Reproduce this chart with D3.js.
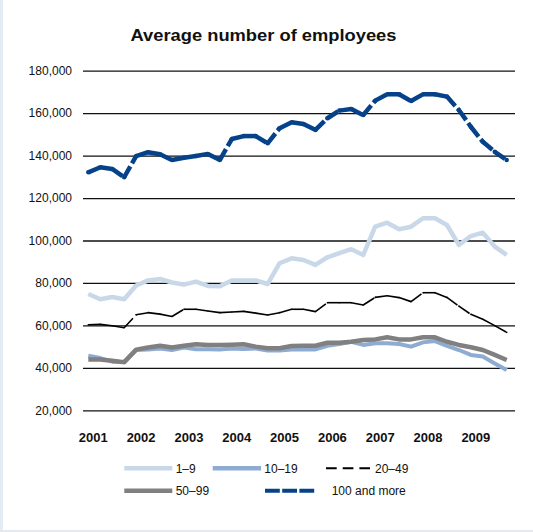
<!DOCTYPE html>
<html>
<head>
<meta charset="utf-8">
<script src="https://cdn.jsdelivr.net/npm/d3@7"></script>
<style>
  html, body { margin: 0; padding: 0; background: #ffffff; }
  svg { display: block; font-family: "Liberation Sans", Arial, Helvetica, sans-serif; }
</style>
</head>
<body>
<svg id="chart" width="533" height="532"></svg>
<script>
// Quarterly average number of employees by enterprise size class, 2001–2009
const years = ["2001", "2002", "2003", "2004", "2005", "2006", "2007", "2008", "2009"];
const quarters = years.flatMap(y => ["Q1", "Q2", "Q3", "Q4"].map(q => `${y} ${q}`));

const yTicks = [20000, 40000, 60000, 80000, 100000, 120000, 140000, 160000, 180000];

const size1to9 = [74800, 72300, 73400, 72300, 78800, 81200, 81900, 80200, 79200, 80600, 78600, 78400,
  81200, 81200, 81200, 79500, 89300, 91600, 90800, 88500, 92100, 94000, 95900, 93200,
  106500, 108400, 105300, 106500, 110500, 110500, 107300, 97900, 102100, 103700, 97100, 93200];

const size10to19 = [45700, 44600, 42900, 42600, 48400, 48700, 49100, 48400, 49600, 48800, 48800, 48700,
  49100, 48900, 49100, 48200, 48200, 48700, 48600, 48700, 50400, 51200, 52300, 50800,
  51600, 51600, 51200, 50000, 52000, 52600, 50400, 48400, 46100, 45300, 42100, 39000];

const size20to49 = [60300, 60500, 59800, 58900, 65000, 66000, 65300, 64200, 67600, 67600, 66800, 66000,
  66300, 66600, 65800, 64900, 66000, 67600, 67600, 66500, 70700, 70700, 70700, 69600,
  73200, 74000, 73100, 71200, 75400, 75400, 73200, 69100, 65200, 62900, 59900, 56700];

const size50to99 = [43900, 43900, 43300, 42700, 48600, 49600, 50400, 49600, 50400, 51100, 50800, 50800,
  50900, 51100, 50000, 49200, 49200, 50300, 50400, 50400, 51800, 51800, 52300, 53100,
  53400, 54400, 53400, 53400, 54400, 54400, 52300, 50800, 49700, 48400, 46100, 43700];

const size100plus = [132100, 134500, 133700, 129800, 139800, 141600, 140600, 137900, 139000, 139800, 140800, 137900,
  147800, 149200, 149200, 145800, 152900, 155700, 154900, 152100, 157600, 161200, 162000, 159100,
  165900, 168900, 168900, 165700, 168900, 168900, 167800, 161500, 153600, 146500, 141800, 137900];

const seriesNames = ["1–9", "10–19", "20–49", "50–99", "100 and more"];

const series = [
  { name: seriesNames[0], values: size1to9,   color: "#c9d8e8", width: 4.5, dash: null },
  { name: seriesNames[1], values: size10to19, color: "#8eabd1", width: 4,   dash: null },
  { name: seriesNames[2], values: size20to49, color: "#000000", width: 1.6, dash: "13,4" },
  { name: seriesNames[3], values: size50to99, color: "#808080", width: 4.5, dash: null },
  { name: seriesNames[4], values: size100plus, color: "#064289", width: 4.5, dash: "12.5,3.5" }
];

const svg = d3.select("#chart");

// page frame: pale strip on the left, thin rule at the bottom
svg.append("rect").attr("x", 0).attr("y", 0).attr("width", 3).attr("height", 532).attr("fill", "#e3ebf5");
svg.append("rect").attr("x", 0).attr("y", 530).attr("width", 533).attr("height", 2).attr("fill", "#e6e9ee");

const x = d3.scalePoint().domain(quarters).range([88.3, 506.7]);
const y = d3.scaleLinear().domain([20000, 180000]).range([410.3, 70.7]);

// title
svg.append("text")
  .attr("x", 263.5).attr("y", 41)
  .attr("text-anchor", "middle")
  .attr("font-size", 16.5).attr("font-weight", "bold")
  .attr("textLength", 266).attr("lengthAdjust", "spacingAndGlyphs")
  .attr("fill", "#111")
  .text("Average number of employees");

// horizontal grid lines with value labels
const yAxis = d3.axisLeft(y)
  .tickValues(yTicks)
  .tickSize(-(515 - 83))
  .tickPadding(11)
  .tickFormat(d3.format(","));

const gy = svg.append("g").attr("transform", "translate(83,0)").call(yAxis);
gy.select(".domain").remove();
gy.selectAll(".tick line").attr("stroke", "#111").attr("stroke-width", 1.3);
gy.selectAll(".tick text").attr("font-size", 12).attr("fill", "#111")
  .attr("font-family", "'Liberation Sans', Arial, sans-serif");

// year labels
svg.append("g").selectAll("text")
  .data(years)
  .join("text")
  .attr("x", d => x(`${d} Q1`) + 5)
  .attr("y", 442)
  .attr("text-anchor", "middle")
  .attr("font-size", 13).attr("font-weight", "bold")
  .attr("fill", "#111")
  .text(d => d);

const line = d3.line().x(d => x(d.q)).y(d => y(d.v));

series.forEach(s => {
  const pts = s.values.map((v, i) => ({ q: quarters[i], v }));
  const g = svg.append("g").attr("class", "series");
  if (!s.dash) {
    g.append("path")
      .attr("d", line(pts))
      .attr("fill", "none")
      .attr("stroke", s.color)
      .attr("stroke-width", s.width)
      .attr("stroke-linejoin", "round");
  } else {
    // dash pattern restarts on every segment between two quarters
    g.selectAll("path")
      .data(d3.pairs(pts))
      .join("path")
      .attr("d", d => line(d))
      .attr("fill", "none")
      .attr("stroke", s.color)
      .attr("stroke-width", s.width)
      .attr("stroke-dasharray", s.dash);
    g.selectAll("circle")
      .data(pts)
      .join("circle")
      .attr("cx", d => x(d.q))
      .attr("cy", d => y(d.v))
      .attr("r", s.width / 2)
      .attr("fill", s.color);
  }
});

// legend
const legendItems = [
  { s: series[0], lx: 124.3, ly: 468.3, len: 48, tx: 175.7, legDash: null },
  { s: series[1], lx: 212.7, ly: 468.3, len: 48.3, tx: 264.3, legDash: null },
  { s: series[2], lx: 326, ly: 468.3, len: 44, tx: 375, legDash: "10.7,6" },
  { s: series[3], lx: 124.3, ly: 490.7, len: 48, tx: 175.7, legDash: null },
  { s: series[4], lx: 265, ly: 490.7, len: 49.3, tx: 331.7, legDash: "14.8,2.4" }
];

const lg = svg.append("g").attr("class", "legend");
legendItems.forEach(it => {
  lg.append("line")
    .attr("x1", it.lx).attr("x2", it.lx + it.len)
    .attr("y1", it.ly).attr("y2", it.ly)
    .attr("stroke", it.s.color)
    .attr("stroke-width", it.s === series[2] ? 2 : (it.s === series[4] ? 4 : 4.5))
    .attr("stroke-dasharray", it.legDash);
  lg.append("text")
    .attr("x", it.tx).attr("y", it.ly + 4.3)
    .attr("font-size", 12).attr("fill", "#111")
    .text(it.s.name);
});
</script>
</body>
</html>
